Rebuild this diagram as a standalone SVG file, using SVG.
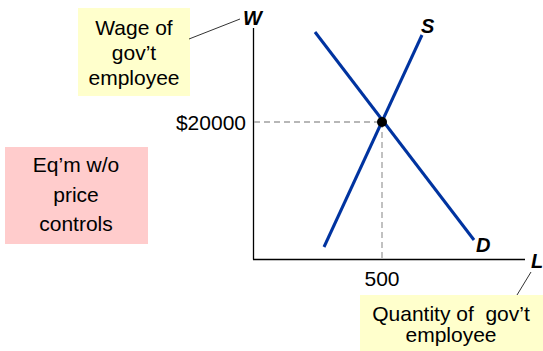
<svg xmlns="http://www.w3.org/2000/svg" width="543" height="351" viewBox="0 0 543 351">
<style>
text{font-family:"Liberation Sans",Arial,sans-serif;fill:#000}
.lbl{font-size:21px;text-anchor:middle}
.ax{font-size:20px;font-weight:bold;font-style:italic}
.curve{stroke:#0033a0;stroke-width:3;fill:none;stroke-linecap:butt}
.dash{stroke:#a0a0a0;stroke-width:1.3;stroke-dasharray:6,4;fill:none}
.axis{stroke:#000;stroke-width:1.3;fill:none}
.lead{stroke:#333;stroke-width:1;fill:none}
</style>
<rect width="543" height="351" fill="#fff"/>
<g id="wage-box">
<rect x="78" y="8" width="112" height="88" fill="#ffffcc"/>
<text class="lbl" x="134" y="35">Wage of</text>
<text class="lbl" x="134" y="60">gov’t</text>
<text class="lbl" x="134" y="85">employee</text>
</g>
<g id="eqm-box">
<rect x="5" y="147" width="143" height="97" fill="#ffcccc"/>
<text class="lbl" x="76" y="172">Eq’m w/o</text>
<text class="lbl" x="76" y="202">price</text>
<text class="lbl" x="76" y="231">controls</text>
</g>
<g id="qty-box">
<rect x="360" y="295" width="183" height="56" fill="#ffffcc"/>
<text class="lbl" x="451" y="321" xml:space="preserve">Quantity of  gov’t</text>
<text class="lbl" x="451" y="342">employee</text>
</g>
<g id="axes">
<line class="axis" x1="253.5" y1="28" x2="253.5" y2="259.5"/>
<line class="axis" x1="253" y1="259.5" x2="525" y2="259.5"/>
<text class="ax" x="243" y="25">W</text>
<text class="ax" x="531" y="268">L</text>
<text x="246" y="130" font-size="21" text-anchor="end">$20000</text>
<text x="382" y="286" font-size="21" text-anchor="middle">500</text>
</g>
<g id="connectors">
<line class="lead" x1="189" y1="39" x2="240" y2="19"/>
<line class="lead" x1="531" y1="272" x2="517" y2="295"/>
<line class="dash" x1="254" y1="122" x2="382" y2="122"/>
<line class="dash" x1="382" y1="122" x2="382" y2="259"/>
</g>
<g id="supply">
<line class="curve" x1="324" y1="247" x2="422" y2="35"/>
<text class="ax" x="421" y="33">S</text>
</g>
<g id="demand">
<line class="curve" x1="315" y1="32" x2="474" y2="240"/>
<text class="ax" x="476" y="252">D</text>
</g>
<g id="equilibrium">
<circle cx="382" cy="122" r="5" fill="#000"/>
</g>
</svg>
